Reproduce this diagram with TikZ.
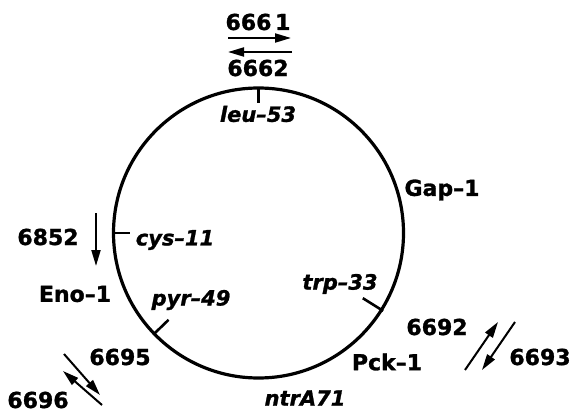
\documentclass[tikz,border=0pt]{standalone}
\usepackage{fontspec}
\setmainfont{DejaVu Sans}[BoldFeatures={FakeBold=1.2},BoldItalicFeatures={FakeBold=1.2}]
\usetikzlibrary{arrows.meta,calc}
\tikzset{
  lbl/.style={font=\fontsize{22}{24}\selectfont\bfseries, inner sep=0pt},
  ilbl/.style={font=\fontsize{21}{24}\selectfont\bfseries\itshape, inner sep=0pt},
  arr/.style={line width=2pt, -{Triangle[length=16pt,width=9pt]}},
  ticks/.style={line width=2.6pt},
}
\begin{document}
\begin{tikzpicture}[x=1pt,y=-1pt]
\useasboundingbox (0,0) rectangle (576,412);
\coordinate (c) at (258.5,233);
\draw[line width=3.2pt] (c) circle[radius=145];
% ticks
\draw[ticks] ($(c)+(270:145)$) -- ($(c)+(270:130)$);
\draw[ticks] ($(c)+(180:145)$) -- ($(c)+(180:129)$);
\draw[ticks] ($(c)+(32:147)$) -- ($(c)+(32:123)$);
\draw[ticks] ($(c)+(136:146)$) -- ($(c)+(136:125)$);
% labels
\node[lbl] (n6661) at (258,22) {666\,1};
\node[lbl] (n6662) at (258,68) {6662};
\node[ilbl] (leu) at (258,114) {leu–53};
\node[ilbl] (cys) at (175,240) {cys–11};
\node[lbl] (n6852) at (48,237) {6852};
\node[lbl] (eno) at (75,294) {Eno–1};
\node[ilbl] (pyr) at (191,300) {pyr–49};
\node[ilbl] (trp) at (340,284) {trp–33};
\node[lbl] (gap) at (442,190) {Gap–1};
\node[lbl] (pck) at (387,362) {Pck–1};
\node[ilbl] (ntr) at (305,398) {ntrA71};
\node[lbl] (n6692) at (437,327) {6692};
\node[lbl] (n6693) at (540,357) {6693};
\node[lbl] (n6695) at (120,357) {6695};
\node[lbl] (n6696) at (38,400) {6696};
% arrows
\coordinate (a1s) at (228,38); \coordinate (a1e) at (291,38);
\coordinate (a2s) at (292,52); \coordinate (a2e) at (228,52);
\draw[arr] (a1s) -- (a1e);
\draw[arr] (a2s) -- (a2e);
\coordinate (a3s) at (96,213); \coordinate (a3e) at (96,266);
\draw[arr] (a3s) -- (a3e);
\coordinate (a4s) at (64,354); \coordinate (a4e) at (100,395);
\coordinate (a5s) at (102,405); \coordinate (a5e) at (63,371);
\draw[arr] (a4s) -- (a4e);
\draw[arr] (a5s) -- (a5e);
\coordinate (a6s) at (465,370); \coordinate (a6e) at (498,322);
\coordinate (a7s) at (515,322); \coordinate (a7e) at (482,370);
\draw[arr] (a6s) -- (a6e);
\draw[arr] (a7s) -- (a7e);
\end{tikzpicture}
\end{document}
